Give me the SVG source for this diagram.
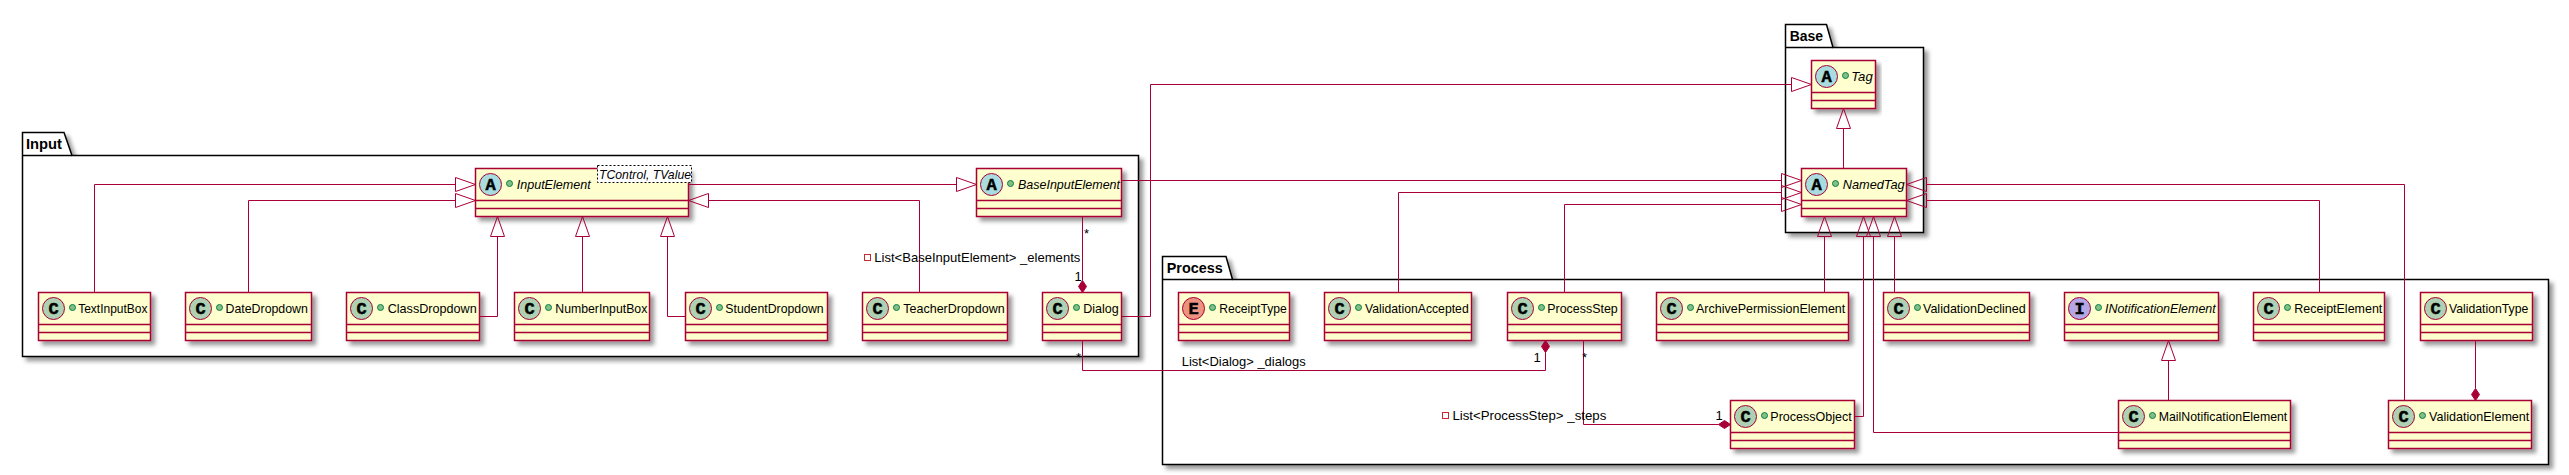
<svg xmlns="http://www.w3.org/2000/svg" width="2569" height="475" viewBox="0 0 2569 475">
<style>
text{font-family:"Liberation Sans",Arial,sans-serif;font-size:13px;fill:#000}
.pkg{fill:#fff;stroke:#000;stroke-width:1.5;filter:url(#sh)}
.pl{fill:none;stroke:#000;stroke-width:1.5}
.pt{font-size:14px;font-weight:bold}
.box{fill:#FEFECE;stroke:#A80036;stroke-width:1.5;filter:url(#sh)}
.sep{stroke:#A80036;stroke-width:1.5}
.c{fill:#ADD1B2;stroke:#A80036;stroke-width:1}
.a{fill:#A9DCDF;stroke:#A80036;stroke-width:1}
.e{fill:#EB937F;stroke:#A80036;stroke-width:1}
.i{fill:#B4A7E5;stroke:#A80036;stroke-width:1}
.g{font-family:"Liberation Mono",monospace;font-size:17px;font-weight:bold;text-anchor:middle;stroke:#000;stroke-width:.5}
.dot{fill:#84BE84;stroke:#038048;stroke-width:1}
.it{font-style:italic}
.ge{fill:#fff;stroke:#000;stroke-width:1;stroke-dasharray:2 2}
.ed{fill:none;stroke:#A80036;stroke-width:1}
.x{marker-end:url(#tri)}
.d{marker-end:url(#dia)}
.pv{fill:none;stroke:#C82930;stroke-width:1}
</style>
<defs>
<filter id="sh" x="-10%" y="-10%" width="120%" height="130%"><feDropShadow dx="4" dy="4" stdDeviation="2" flood-color="#000" flood-opacity=".4"/></filter>
<marker id="tri" markerUnits="userSpaceOnUse" viewBox="-1 -9 23 18" markerWidth="23" markerHeight="18" refX="0" refY="0" orient="auto"><path d="M0,-7 L20,0 L0,7 Z" fill="none" stroke="#A80036" stroke-width="1"/></marker>
<marker id="dia" markerUnits="userSpaceOnUse" viewBox="-1 -6 14 12" markerWidth="14" markerHeight="12" refX="0" refY="0" orient="auto"><path d="M0,0 L6,-4 L12,0 L6,4 Z" fill="#A80036" stroke="#A80036" stroke-width="1"/></marker>
</defs>

<g id="pkg-Input">
<path class="pkg" d="M22.5,155.5 V132.5 H64 L72,155.5 H1138.5 V356.5 H22.5 Z"/>
<path class="pl" d="M22.5,155.5 H72"/>
<text class="pt" x="26" y="149.3" textLength="36" lengthAdjust="spacingAndGlyphs">Input</text>
</g>
<g id="pkg-Base">
<path class="pkg" d="M1785.5,47.5 V24.5 H1826.5 L1833,47.5 H1923.5 V232.5 H1785.5 Z"/>
<path class="pl" d="M1785.5,47.5 H1833"/>
<text class="pt" x="1789.7" y="41" textLength="33.3" lengthAdjust="spacingAndGlyphs">Base</text>
</g>
<g id="pkg-Process">
<path class="pkg" d="M1162.5,279.5 V256.5 H1226 L1232.5,279.5 H2548.5 V464.5 H1162.5 Z"/>
<path class="pl" d="M1162.5,279.5 H1232.5"/>
<text class="pt" x="1166.7" y="273.3" textLength="56" lengthAdjust="spacingAndGlyphs">Process</text>
</g>

<g id="TextInputBox" transform="translate(38.5 292.5)"><rect class="box" width="112" height="48"/><path class="sep" d="M0,32 H112 M0,40 H112"/><circle class="c" cx="15" cy="16" r="11"/><text class="g" x="15" y="21">C</text><circle class="dot" cx="34" cy="15" r="3"/><text x="39.7" y="20.6" textLength="69.3" lengthAdjust="spacingAndGlyphs">TextInputBox</text></g>
<g id="DateDropdown" transform="translate(185.5 292.5)"><rect class="box" width="126" height="48"/><path class="sep" d="M0,32 H126 M0,40 H126"/><circle class="c" cx="15" cy="16" r="11"/><text class="g" x="15" y="21">C</text><circle class="dot" cx="34" cy="15" r="3"/><text x="40" y="20.6" textLength="82.4" lengthAdjust="spacingAndGlyphs">DateDropdown</text></g>
<g id="ClassDropdown" transform="translate(346.5 292.5)"><rect class="box" width="133" height="48"/><path class="sep" d="M0,32 H133 M0,40 H133"/><circle class="c" cx="15" cy="16" r="11"/><text class="g" x="15" y="21">C</text><circle class="dot" cx="34" cy="15" r="3"/><text x="41.2" y="20.6" textLength="89" lengthAdjust="spacingAndGlyphs">ClassDropdown</text></g>
<g id="NumberInputBox" transform="translate(514.5 292.5)"><rect class="box" width="135" height="48"/><path class="sep" d="M0,32 H135 M0,40 H135"/><circle class="c" cx="15" cy="16" r="11"/><text class="g" x="15" y="21">C</text><circle class="dot" cx="34" cy="15" r="3"/><text x="40.8" y="20.6" textLength="92" lengthAdjust="spacingAndGlyphs">NumberInputBox</text></g>
<g id="StudentDropdown" transform="translate(685.5 292.5)"><rect class="box" width="142" height="48"/><path class="sep" d="M0,32 H142 M0,40 H142"/><circle class="c" cx="15" cy="16" r="11"/><text class="g" x="15" y="21">C</text><circle class="dot" cx="34" cy="15" r="3"/><text x="39.8" y="20.6" textLength="98.4" lengthAdjust="spacingAndGlyphs">StudentDropdown</text></g>
<g id="TeacherDropdown" transform="translate(862.5 292.5)"><rect class="box" width="145" height="48"/><path class="sep" d="M0,32 H145 M0,40 H145"/><circle class="c" cx="15" cy="16" r="11"/><text class="g" x="15" y="21">C</text><circle class="dot" cx="34" cy="15" r="3"/><text x="40.8" y="20.6" textLength="101.4" lengthAdjust="spacingAndGlyphs">TeacherDropdown</text></g>
<g id="Dialog" transform="translate(1042.5 292.5)"><rect class="box" width="79" height="48"/><path class="sep" d="M0,32 H79 M0,40 H79"/><circle class="c" cx="15" cy="16" r="11"/><text class="g" x="15" y="21">C</text><circle class="dot" cx="34" cy="15" r="3"/><text x="40.8" y="20.6" textLength="35.4" lengthAdjust="spacingAndGlyphs">Dialog</text></g>
<g id="InputElement" transform="translate(475.5 168.5)"><rect class="box" width="213" height="48"/><path class="sep" d="M0,32 H213 M0,40 H213"/><circle class="a" cx="15" cy="16" r="11"/><text class="g" x="15" y="21">A</text><circle class="dot" cx="34" cy="15" r="3"/><text class="it" x="41.2" y="20.6" textLength="74" lengthAdjust="spacingAndGlyphs">InputElement</text><rect class="ge" x="122" y="-3" width="94" height="17"/><text class="it" x="123.5" y="10" textLength="92" lengthAdjust="spacingAndGlyphs">TControl, TValue</text></g>
<g id="BaseInputElement" transform="translate(976.5 168.5)"><rect class="box" width="145" height="48"/><path class="sep" d="M0,32 H145 M0,40 H145"/><circle class="a" cx="15" cy="16" r="11"/><text class="g" x="15" y="21">A</text><circle class="dot" cx="34" cy="15" r="3"/><text class="it" x="41.5" y="20.6" textLength="102" lengthAdjust="spacingAndGlyphs">BaseInputElement</text></g>

<g id="Tag" transform="translate(1811.5 60.5)"><rect class="box" width="64" height="48"/><path class="sep" d="M0,32 H64 M0,40 H64"/><circle class="a" cx="15" cy="16" r="11"/><text class="g" x="15" y="21">A</text><circle class="dot" cx="34" cy="15" r="3"/><text class="it" x="39.8" y="20.6" textLength="21.4" lengthAdjust="spacingAndGlyphs">Tag</text></g>
<g id="NamedTag" transform="translate(1801.5 168.5)"><rect class="box" width="105" height="48"/><path class="sep" d="M0,32 H105 M0,40 H105"/><circle class="a" cx="15" cy="16" r="11"/><text class="g" x="15" y="21">A</text><circle class="dot" cx="34" cy="15" r="3"/><text class="it" x="41.2" y="20.6" textLength="62" lengthAdjust="spacingAndGlyphs">NamedTag</text></g>

<g id="ReceiptType" transform="translate(1178.5 292.5)"><rect class="box" width="111" height="48"/><path class="sep" d="M0,32 H111 M0,40 H111"/><circle class="e" cx="15" cy="16" r="11"/><text class="g" x="15" y="21">E</text><circle class="dot" cx="34" cy="15" r="3"/><text x="40.8" y="20.6" textLength="67.4" lengthAdjust="spacingAndGlyphs">ReceiptType</text></g>
<g id="ValidationAccepted" transform="translate(1324.5 292.5)"><rect class="box" width="147" height="48"/><path class="sep" d="M0,32 H147 M0,40 H147"/><circle class="c" cx="15" cy="16" r="11"/><text class="g" x="15" y="21">C</text><circle class="dot" cx="34" cy="15" r="3"/><text x="40.5" y="20.6" textLength="103.7" lengthAdjust="spacingAndGlyphs">ValidationAccepted</text></g>
<g id="ProcessStep" transform="translate(1507.5 292.5)"><rect class="box" width="114" height="48"/><path class="sep" d="M0,32 H114 M0,40 H114"/><circle class="c" cx="15" cy="16" r="11"/><text class="g" x="15" y="21">C</text><circle class="dot" cx="34" cy="15" r="3"/><text x="39.8" y="20.6" textLength="70.4" lengthAdjust="spacingAndGlyphs">ProcessStep</text></g>
<g id="ArchivePermissionElement" transform="translate(1656.5 292.5)"><rect class="box" width="192" height="48"/><path class="sep" d="M0,32 H192 M0,40 H192"/><circle class="c" cx="15" cy="16" r="11"/><text class="g" x="15" y="21">C</text><circle class="dot" cx="34" cy="15" r="3"/><text x="39.5" y="20.6" textLength="149.3" lengthAdjust="spacingAndGlyphs">ArchivePermissionElement</text></g>
<g id="ValidationDeclined" transform="translate(1883.5 292.5)"><rect class="box" width="146" height="48"/><path class="sep" d="M0,32 H146 M0,40 H146"/><circle class="c" cx="15" cy="16" r="11"/><text class="g" x="15" y="21">C</text><circle class="dot" cx="34" cy="15" r="3"/><text x="39.5" y="20.6" textLength="102.7" lengthAdjust="spacingAndGlyphs">ValidationDeclined</text></g>
<g id="INotificationElement" transform="translate(2064.5 292.5)"><rect class="box" width="154" height="48"/><path class="sep" d="M0,32 H154 M0,40 H154"/><circle class="i" cx="15" cy="16" r="11"/><text class="g" x="15" y="21">I</text><circle class="dot" cx="34" cy="15" r="3"/><text class="it" x="40.5" y="20.6" textLength="110.7" lengthAdjust="spacingAndGlyphs">INotificationElement</text></g>
<g id="ReceiptElement" transform="translate(2253.5 292.5)"><rect class="box" width="131" height="48"/><path class="sep" d="M0,32 H131 M0,40 H131"/><circle class="c" cx="15" cy="16" r="11"/><text class="g" x="15" y="21">C</text><circle class="dot" cx="34" cy="15" r="3"/><text x="40.8" y="20.6" textLength="88" lengthAdjust="spacingAndGlyphs">ReceiptElement</text></g>
<g id="ValidationType" transform="translate(2420.5 292.5)"><rect class="box" width="112" height="48"/><path class="sep" d="M0,32 H112 M0,40 H112"/><circle class="c" cx="15" cy="16" r="11"/><text class="g" x="15" y="21">C</text><text x="28.5" y="20.6" textLength="79.3" lengthAdjust="spacingAndGlyphs">ValidationType</text></g>
<g id="ProcessObject" transform="translate(1730.5 400.5)"><rect class="box" width="124" height="48"/><path class="sep" d="M0,32 H124 M0,40 H124"/><circle class="c" cx="15" cy="16" r="11"/><text class="g" x="15" y="21">C</text><circle class="dot" cx="34" cy="15" r="3"/><text x="39.8" y="20.6" textLength="81.4" lengthAdjust="spacingAndGlyphs">ProcessObject</text></g>
<g id="MailNotificationElement" transform="translate(2118.5 400.5)"><rect class="box" width="172" height="48"/><path class="sep" d="M0,32 H172 M0,40 H172"/><circle class="c" cx="15" cy="16" r="11"/><text class="g" x="15" y="21">C</text><circle class="dot" cx="34" cy="15" r="3"/><text x="40.2" y="20.6" textLength="128.6" lengthAdjust="spacingAndGlyphs">MailNotificationElement</text></g>
<g id="ValidationElement" transform="translate(2388.5 400.5)"><rect class="box" width="143" height="48"/><path class="sep" d="M0,32 H143 M0,40 H143"/><circle class="c" cx="15" cy="16" r="11"/><text class="g" x="15" y="21">C</text><circle class="dot" cx="34" cy="15" r="3"/><text x="40.5" y="20.6" textLength="100.3" lengthAdjust="spacingAndGlyphs">ValidationElement</text></g>

<g id="connectors">
<path class="ed x" d="M94.5,292.5 V184.5 H455.5"/>
<path class="ed x" d="M248.5,292.5 V200.5 H455.5"/>
<path class="ed x" d="M479.5,316.5 H497.5 V236.5"/>
<path class="ed x" d="M582.5,292.5 V236.5"/>
<path class="ed x" d="M685.5,316.5 H667.5 V236.5"/>
<path class="ed x" d="M919.5,292.5 V200.5 H708.5"/>
<path class="ed x" d="M688.5,184.5 H956.5"/>
<path class="ed x" d="M1121.5,180.5 H1781.5"/>
<path class="ed x" d="M1398.5,292.5 V192.5 H1781.5"/>
<path class="ed x" d="M1564.5,292.5 V204.5 H1781.5"/>
<path class="ed x" d="M1121.5,316.5 H1150.5 V84.5 H1791.5"/>
<path class="ed x" d="M1843.5,168.5 V128.5"/>
<path class="ed x" d="M1824.5,292.5 V236.5"/>
<path class="ed x" d="M1854.5,416.5 H1863.5 V236.5"/>
<path class="ed x" d="M2118.5,432.5 H1873.5 V236.5"/>
<path class="ed x" d="M1894.5,292.5 V236.5"/>
<path class="ed x" d="M2319.5,292.5 V200.5 H1926.5"/>
<path class="ed x" d="M2404.5,400.5 V184.5 H1926.5"/>
<path class="ed x" d="M2168.5,400.5 V360.5"/>
<path class="ed d" d="M2475.5,340.5 V388.5"/>
<path class="ed d" d="M1082.5,216.5 V280.5"/>
<path class="ed d" d="M1082.5,340.5 V370.5 H1545.5 V352.5"/>
<path class="ed d" d="M1583.5,340.5 V424.5 H1718.5"/>
<rect class="pv" x="864.5" y="254.5" width="6" height="6"/>
<text x="874.3" y="261.7" textLength="206" lengthAdjust="spacingAndGlyphs">List&lt;BaseInputElement&gt; _elements</text>
<text x="1084" y="238">*</text>
<text x="1074.5" y="280.7">1</text>
<text x="1076" y="362">*</text>
<text x="1181.7" y="365.7" textLength="124" lengthAdjust="spacingAndGlyphs">List&lt;Dialog&gt; _dialogs</text>
<text x="1533.5" y="361.7">1</text>
<text x="1582" y="361.5">*</text>
<rect class="pv" x="1442.5" y="412.5" width="6" height="6"/>
<text x="1452.4" y="420" textLength="153.9" lengthAdjust="spacingAndGlyphs">List&lt;ProcessStep&gt; _steps</text>
<text x="1715.5" y="420">1</text>
</g>
</svg>
